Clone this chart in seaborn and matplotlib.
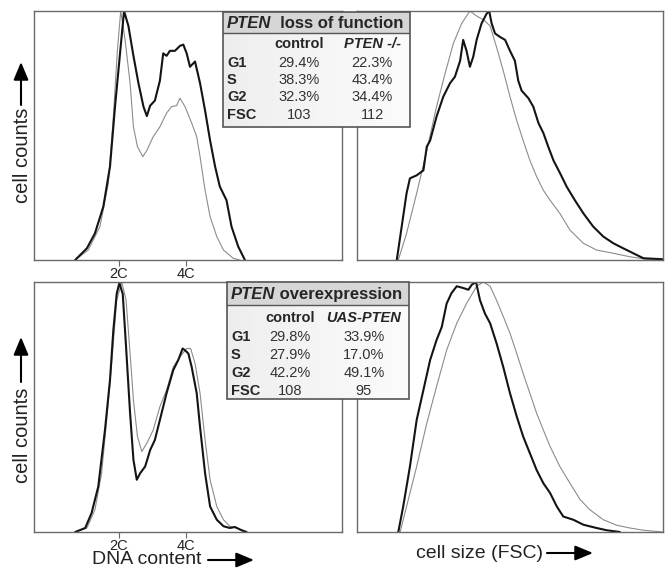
import numpy as np
import matplotlib
matplotlib.use("Agg")
import matplotlib.pyplot as plt
import matplotlib.patches as mpatches
import seaborn as sns

W, H = 666, 570

# ---- data: DNA content histograms (x in C units, y = % of peak) ----
dna_top_ctrl_x = [0.69, 1.08, 1.43, 1.68, 1.83, 1.95, 2.05, 2.18, 2.33, 2.43, 2.55, 2.71, 2.83,
                  3.02, 3.22, 3.42, 3.57, 3.72, 3.82, 3.97, 4.17, 4.32, 4.42, 4.57, 4.72, 4.92,
                  5.12, 5.41, 5.60]
dna_top_ctrl_y = [0, 4, 13.4, 30.8, 57.6, 84, 100, 88.5, 71, 53.5, 45.5, 41.5, 44, 49.5, 53.5,
                  59, 61.6, 62, 65, 61.6, 55, 49.5, 41.5, 28, 17.4, 9.4, 4, 0.7, 0]
dna_top_mut_x = [0.69, 1.04, 1.28, 1.53, 1.73, 1.88, 2.03, 2.15, 2.28, 2.43, 2.58, 2.73, 2.83,
                 2.93, 3.07, 3.22, 3.32, 3.42, 3.52, 3.67, 3.82, 3.92, 4.02, 4.12, 4.27, 4.42,
                 4.57, 4.72, 4.87, 5.01, 5.21, 5.36, 5.56, 5.76]
dna_top_mut_y = [0, 4.7, 10.7, 21.4, 37.5, 61.6, 83, 100, 94, 82, 71, 61.6, 57.8, 62, 64, 72,
                 83, 82, 84, 84, 86, 86.5, 83, 77.6, 79.7, 71, 60, 48, 37.5, 29.5, 24, 13.4,
                 5.4, 0]
dna_bot_ctrl_x = [0.69, 1.04, 1.28, 1.48, 1.63, 1.78, 1.93, 2.08, 2.21, 2.33, 2.43, 2.55, 2.68,
                  2.83, 3.02, 3.22, 3.42, 3.62, 3.82, 4.02, 4.14, 4.27, 4.42, 4.57, 4.72, 4.92,
                  5.12, 5.31, 5.51, 5.81]
dna_bot_ctrl_y = [0, 1.6, 8.9, 23.5, 44.8, 67.4, 92.7, 100, 92.7, 71.4, 52.8, 38.2, 32.2, 35.5,
                  40.8, 50.1, 56.8, 66, 70.1, 73.4, 73.4, 67.4, 55.5, 36.8, 20.9, 10.2, 4.9,
                  2.3, 1.6, 0]
dna_bot_mut_x = [0.69, 0.99, 1.18, 1.38, 1.58, 1.73, 1.83, 1.93, 2.01, 2.11, 2.21, 2.33, 2.43,
                 2.53, 2.63, 2.78, 2.93, 3.07, 3.22, 3.42, 3.62, 3.77, 3.90, 3.97, 4.07, 4.17,
                 4.32, 4.42, 4.57, 4.72, 4.92, 5.12, 5.31, 5.46, 5.66, 5.81]
dna_bot_mut_y = [0, 1.6, 7.6, 18.2, 40.8, 60.8, 80.7, 95.3, 99.6, 95.3, 74, 47.5, 28.9, 20.9,
                 23.5, 26.2, 32.8, 36.8, 44.8, 55.5, 64.8, 68.8, 73.4, 72.7, 71.4, 66, 55.5,
                 42, 23.5, 10.2, 4.9, 2.3, 1.6, 2, 0.7, 0]

# ---- data: FSC histograms (x in arbitrary FSC units 0-100) ----
fsc_top_ctrl_x = [13.5, 16.2, 19.5, 22.8, 26.0, 28.8, 31.5, 34.2, 36.9, 39.1, 41.3, 43.5, 45.6,
                  47.8, 50.0, 52.2, 54.3, 56.5, 58.7, 60.9, 63.1, 66.3, 69.6, 74.0, 78.3, 83.8,
                  89.2, 94.7, 100]
fsc_top_ctrl_y = [0, 10.7, 26.8, 44, 61.6, 75, 87, 95, 100, 98, 96.5, 94, 85.5, 76, 65.6, 56,
                  48, 40, 33.5, 28, 24, 18.7, 12, 6.7, 4, 2.7, 1.3, 0.3, 0]
fsc_top_mut_x = [13.0, 14.6, 16.2, 17.3, 19.5, 21.7, 22.8, 23.9, 26.0, 28.2, 30.4, 32.0, 33.7,
                 34.7, 35.8, 36.9, 38.0, 39.1, 40.7, 42.4, 43.2, 44.0, 45.1, 46.7, 48.4, 50.0,
                 51.6, 52.7, 53.8, 56.0, 57.6, 59.3, 60.9, 62.5, 64.2, 66.3, 68.5, 71.2, 74.0,
                 77.2, 80.5, 83.8, 87.0, 90.3, 93.6, 100]
fsc_top_mut_y = [0, 13.4, 26.8, 32.8, 34, 36, 45.5, 48, 57.6, 65.6, 71, 73.6, 80, 88.4, 84,
                 77.6, 81.7, 88.4, 95, 99, 100, 95, 91, 89.6, 88.4, 84, 80, 72, 68, 65, 61.6,
                 55, 51, 45.5, 40, 35, 29.5, 24, 18.7, 13.4, 9.4, 6.7, 4.7, 2.7, 0.7, 0.3]
fsc_bot_ctrl_x = [14.1, 16.2, 19.5, 22.8, 26.0, 29.3, 32.6, 35.8, 39.1, 41.3, 43.5, 45.6, 47.8,
                  50.0, 52.2, 54.3, 56.5, 58.7, 60.9, 63.1, 66.3, 69.6, 72.9, 76.1, 80.5, 84.9,
                  89.2, 93.6, 100]
fsc_bot_ctrl_y = [0, 10.2, 26.2, 43.5, 58.2, 72.8, 83.5, 91.4, 98.3, 100, 98.3, 92.7, 86.2,
                  79.5, 71.4, 63.4, 55.5, 47.5, 40.8, 34.2, 26.2, 19.5, 13, 8.9, 4.9, 2.7, 1.6,
                  0.7, 0]
fsc_bot_mut_x = [13.5, 15.1, 17.3, 19.5, 21.7, 23.9, 26.0, 27.7, 29.3, 30.9, 32.6, 34.7, 36.4,
                 37.5, 38.9, 40.2, 41.8, 43.5, 45.6, 47.8, 50.0, 52.2, 54.3, 56.5, 58.7, 60.9,
                 63.1, 65.3, 67.4, 70.7, 74.0, 78.3, 81.6, 85.9]
fsc_bot_mut_y = [0, 10.2, 26.2, 44.8, 56.8, 68.8, 76.8, 82, 91.4, 95.6, 98.3, 97.6, 96.9, 98.9,
                 100, 92.7, 87.4, 83.5, 75.5, 66, 55.5, 46.2, 38.2, 31.5, 24.8, 19.5, 15.6,
                 10.2, 6.2, 4.9, 2.9, 1.6, 0.7, 0]

# ---- data: tables ----
phase_rows = ["G1", "S", "G2", "FSC"]
top_cols = ["control", "PTEN -/-"]
top_ctrl_vals = ["29.4%", "38.3%", "32.3%", "103"]
top_mut_vals = ["22.3%", "43.4%", "34.4%", "112"]
bot_cols = ["control", "UAS-PTEN"]
bot_ctrl_vals = ["29.8%", "27.9%", "42.2%", "108"]
bot_mut_vals = ["33.9%", "17.0%", "49.1%", "95"]

dna_ticks = [2, 4]
dna_tick_labels = ["2C", "4C"]

C_THICK = "#141414"
C_THIN = "#8c8c8c"
C_SPINE = "#6a6a6a"

sns.set_style("white")
plt.rcParams["font.family"] = ["Liberation Sans", "DejaVu Sans"]

fig = plt.figure(figsize=(W / 100, H / 100), dpi=100)


def add_ax(x0, y0, x1, y1):
    return fig.add_axes([x0 / W, 1 - y1 / H, (x1 - x0) / W, (y1 - y0) / H])


def style_ax(ax, xlim, ticks=None, labels=None):
    ax.set_xlim(*xlim)
    ax.set_ylim(0, 100)
    ax.set_yticks([])
    for s in ax.spines.values():
        s.set_color(C_SPINE)
        s.set_linewidth(1.0)
        s.set_visible(True)
    if ticks:
        ax.set_xticks(ticks)
        ax.set_xticklabels(labels, fontsize=10.5, color="#222222")
        ax.tick_params(axis="x", direction="out", length=4, width=0.8,
                       color=C_SPINE, pad=1, bottom=True)
    else:
        ax.set_xticks([])
    ax.set_xlabel("")
    ax.set_ylabel("")


def curves(ax, x1, y1, x2, y2):
    sns.lineplot(x=x1, y=y1, ax=ax, color=C_THIN, lw=0.8, sort=False)
    sns.lineplot(x=x2, y=y2, ax=ax, color=C_THICK, lw=1.5, sort=False)


ax1 = add_ax(34, 11, 342, 260)
curves(ax1, dna_top_ctrl_x, dna_top_ctrl_y, dna_top_mut_x, dna_top_mut_y)
style_ax(ax1, (-0.54, 8.66), dna_ticks, dna_tick_labels)

ax2 = add_ax(357, 11, 663, 260)
curves(ax2, fsc_top_ctrl_x, fsc_top_ctrl_y, fsc_top_mut_x, fsc_top_mut_y)
style_ax(ax2, (0, 100))

ax3 = add_ax(34, 282, 342, 532)
curves(ax3, dna_bot_ctrl_x, dna_bot_ctrl_y, dna_bot_mut_x, dna_bot_mut_y)
style_ax(ax3, (-0.54, 8.66), dna_ticks, dna_tick_labels)

ax4 = add_ax(357, 282, 663, 532)
curves(ax4, fsc_bot_ctrl_x, fsc_bot_ctrl_y, fsc_bot_mut_x, fsc_bot_mut_y)
style_ax(ax4, (0, 100))


def draw_table(x0, y0, x1, y1, head_h, title_rest, cols, ctrl_vals, mut_vals,
               lab_x, c1, c2, row_y, col_y):
    w, h = x1 - x0, y1 - y0
    tax = add_ax(x0, y0, x1, y1)
    tax.set_xlim(0, w)
    tax.set_ylim(h, 0)
    tax.axis("off")
    grad = np.linspace(0, 1, 50).reshape(1, -1)
    tax.imshow(grad, extent=(0, w, h, head_h), cmap="Greys_r", vmin=-8, vmax=1.3,
               aspect="auto", zorder=0)
    tax.add_patch(mpatches.Rectangle((0, 0), w, head_h, facecolor="#d6d6d6",
                                     edgecolor="none", zorder=1))
    tax.plot([0, w], [head_h, head_h], color="#555555", lw=1.0, zorder=3)
    tax.add_patch(mpatches.Rectangle((0, 0), w, h, facecolor="none",
                                     edgecolor="#555555", lw=1.2, zorder=3,
                                     clip_on=False))
    t = tax.text(4, head_h / 2 + 1, "PTEN", fontsize=12, fontweight="bold",
                 fontstyle="italic", ha="left", va="center", zorder=4)
    tax.annotate(title_rest, xy=(1, 0), xycoords=t, ha="left", va="bottom",
                 fontsize=12, fontweight="bold", zorder=4)
    tax.text(c1 - x0, col_y - y0, cols[0], fontsize=10.5, fontweight="bold",
             ha="center", va="center")
    tax.text(c2 - x0, col_y - y0, cols[1], fontsize=10.5, fontweight="bold",
             fontstyle="italic", ha="center", va="center")
    for r, a, b, yy in zip(phase_rows, ctrl_vals, mut_vals, row_y):
        tax.text(lab_x - x0, yy - y0, r, fontsize=10.5, fontweight="bold",
                 ha="left", va="center")
        tax.text(c1 - x0, yy - y0, a, fontsize=10.5, ha="center", va="center",
                 color="#333333")
        tax.text(c2 - x0, yy - y0, b, fontsize=10.5, ha="center", va="center",
                 color="#333333")


draw_table(223, 12, 410, 127, 21, "  loss of function", top_cols, top_ctrl_vals,
           top_mut_vals, 227, 299, 372, [63, 80, 97, 115], 44)
draw_table(227, 282, 409, 399, 23, " overexpression", bot_cols, bot_ctrl_vals,
           bot_mut_vals, 231, 290, 364, [337, 355, 373, 391], 318)

# axis labels with arrows
arrow = dict(arrowstyle="-|>,head_length=0.6,head_width=0.25", color="black",
             lw=1.5, mutation_scale=18, shrinkA=0, shrinkB=0)
for cy, (a0, a1) in [(155, (105, 62)), (435, (382, 337))]:
    fig.text(23 / W, 1 - cy / H, "cell counts", rotation=90, fontsize=14.5,
             ha="center", va="center", color="#222222")
    fig.add_artist(mpatches.FancyArrowPatch((21 / W, 1 - a0 / H), (21 / W, 1 - a1 / H),
                                            transform=fig.transFigure, **arrow))

fig.text(147 / W, 1 - 560 / H, "DNA content", fontsize=14, ha="center", va="center",
         color="#222222")
fig.add_artist(mpatches.FancyArrowPatch((208 / W, 1 - 560 / H), (254 / W, 1 - 560 / H),
                                        transform=fig.transFigure, **arrow))
fig.text(480 / W, 1 - 553 / H, "cell size (FSC)", fontsize=14, ha="center", va="center",
         color="#222222")
fig.add_artist(mpatches.FancyArrowPatch((547 / W, 1 - 553 / H), (593 / W, 1 - 553 / H),
                                        transform=fig.transFigure, **arrow))

fig.savefig("out.png", dpi=100)
